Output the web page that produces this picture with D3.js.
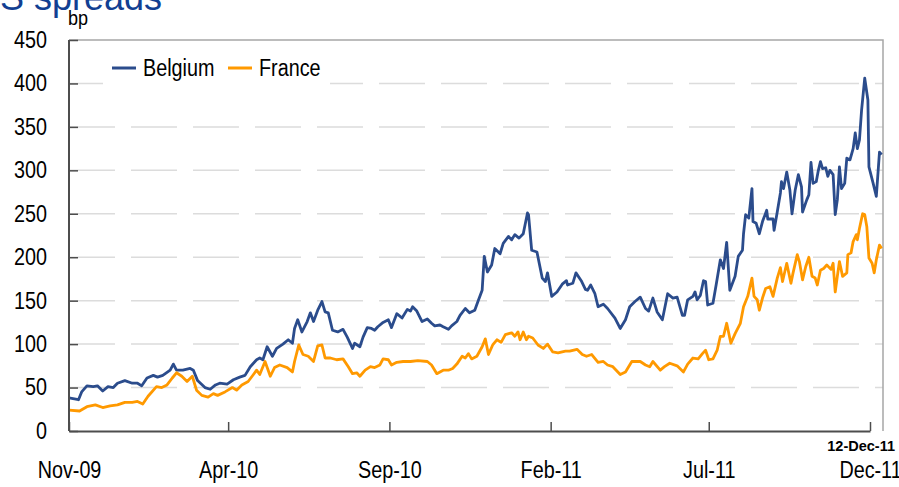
<!DOCTYPE html>
<html>
<head>
<meta charset="utf-8">
<script src="https://cdn.jsdelivr.net/npm/d3@7"></script>
<style>
  body { margin: 0; background: #fff; }
  text { font-family: "Liberation Sans", Arial, sans-serif; }
</style>
</head>
<body>
<div id="Area"></div>
<script>
// days counted from 1 Nov 2009, values in bp
var startDate = new Date(2009, 10, 1);

var belgiumDays = [0, 9, 12, 17, 23, 27, 32, 37, 42, 46, 53, 60, 65, 69, 74, 80, 84, 89, 96, 99,
  102, 108, 115, 118, 122, 129, 134, 139, 143, 150, 156, 162, 167, 172, 178, 181, 184, 188, 193, 197,
  203, 208, 212, 214, 217, 221, 226, 229, 232, 236, 240, 243, 246, 250, 255, 260, 264, 269, 271, 276,
  279, 283, 287, 290, 293, 298, 303, 306, 311, 316, 321, 324, 326, 330, 335, 340, 344, 347, 352, 355,
  360, 363, 368, 371, 376, 380, 385, 388, 392, 394, 397, 401, 404, 409, 412, 417, 420, 423, 427, 431,
  435, 436, 439, 444, 449, 452, 454, 458, 463, 468, 472, 473, 478, 481, 486, 490, 492, 495, 499, 502,
  507, 511, 518, 523, 528, 532, 537, 542, 547, 550, 554, 558, 563, 568, 573, 577, 582, 584, 587, 592,
  594, 596, 599, 602, 604, 606, 611, 614, 618, 621, 624, 627, 632, 635, 639, 640, 642, 645, 648, 649,
  652, 655, 658, 662, 663, 668, 669, 672, 675, 676, 678, 681, 684, 686, 689, 692, 695, 696, 700, 702,
  704, 706, 709, 711, 713, 715, 718, 720, 722, 725, 727, 729, 731, 733, 736, 738, 741, 744, 746, 748,
  750, 752, 755, 758, 759, 763, 766, 769, 771];
var belgiumBp = [38, 36, 45, 52, 51, 52, 46, 51, 50, 55, 58, 55, 55, 52, 61, 64, 62, 64, 70, 77,
  70, 70, 72, 70, 58, 50, 48, 53, 55, 54, 59, 62, 64, 74, 82, 84, 82, 97, 86, 95,
  100, 105, 101, 118, 128, 114, 126, 136, 126, 139, 149, 137, 136, 116, 114, 117, 108, 95, 101, 97,
  108, 119, 118, 116, 120, 125, 128, 119, 135, 130, 140, 138, 143, 138, 126, 129, 124, 121, 122, 120,
  117, 121, 126, 133, 141, 136, 139, 149, 162, 201, 183, 191, 210, 204, 216, 224, 220, 226, 222, 227,
  251, 249, 208, 206, 176, 172, 182, 155, 160, 169, 173, 168, 170, 182, 173, 163, 162, 168, 158, 143,
  146, 141, 130, 118, 128, 143, 149, 154, 141, 138, 153, 137, 128, 158, 153, 154, 133, 133, 151, 155,
  160, 151, 156, 173, 172, 145, 147, 168, 197, 187, 217, 162, 178, 201, 208, 227, 249, 245, 279, 241,
  239, 227, 241, 254, 244, 244, 231, 252, 274, 287, 279, 298, 277, 250, 277, 295, 281, 252, 266, 272,
  309, 285, 287, 300, 310, 302, 303, 293, 300, 295, 249, 266, 304, 279, 285, 314, 312, 325, 343, 325,
  335, 369, 406, 381, 304, 285, 270, 321, 318];

var franceDays = [0, 10, 17, 25, 32, 39, 46, 53, 60, 65, 70, 75, 83, 88, 93, 98, 102, 107, 112, 117,
  121, 126, 132, 137, 141, 148, 155, 159, 164, 170, 175, 178, 181, 186, 191, 195, 200, 207, 212, 214,
  218, 222, 227, 232, 236, 240, 243, 248, 254, 260, 265, 269, 273, 276, 281, 286, 290, 295, 298, 303,
  306, 311, 317, 324, 331, 340, 344, 349, 355, 360, 364, 368, 373, 376, 379, 382, 387, 392, 395, 398,
  402, 406, 410, 414, 420, 423, 426, 428, 431, 434, 436, 440, 445, 450, 454, 459, 464, 471, 475, 482,
  487, 491, 496, 502, 507, 511, 516, 523, 528, 534, 542, 547, 551, 554, 561, 565, 570, 577, 583, 587,
  592, 597, 601, 604, 607, 611, 615, 618, 621, 624, 628, 632, 637, 640, 644, 648, 650, 653, 655, 658,
  661, 665, 668, 672, 675, 677, 681, 685, 687, 691, 693, 696, 699, 702, 705, 708, 710, 713, 716, 719,
  723, 725, 727, 729, 731, 734, 738, 739, 742, 744, 747, 748, 750, 753, 755, 757, 759, 762, 764, 766,
  769, 771];
var franceBp = [24, 23, 28, 30, 27, 29, 30, 33, 33, 34, 31, 40, 51, 50, 53, 61, 67, 63, 57, 63,
  47, 41, 39, 43, 41, 45, 50, 47, 53, 57, 65, 70, 65, 80, 63, 73, 76, 73, 68, 80,
  99, 88, 86, 80, 98, 99, 84, 84, 82, 83, 74, 66, 67, 63, 70, 74, 73, 76, 83, 82,
  76, 79, 80, 80, 81, 80, 76, 66, 70, 70, 72, 77, 86, 84, 89, 83, 86, 97, 106, 88,
  99, 105, 102, 111, 113, 109, 114, 105, 114, 105, 109, 107, 99, 95, 100, 91, 90, 92, 92, 94,
  88, 86, 88, 79, 80, 76, 74, 65, 68, 80, 80, 76, 74, 80, 70, 74, 78, 75, 68, 77,
  84, 83, 89, 93, 82, 83, 93, 109, 109, 124, 101, 112, 124, 143, 155, 176, 155, 151, 139, 153,
  164, 166, 155, 176, 188, 172, 193, 170, 182, 203, 195, 174, 189, 200, 178, 176, 168, 185, 187, 191,
  186, 193, 160, 178, 195, 178, 182, 203, 205, 218, 226, 220, 233, 250, 249, 235, 199, 193, 182, 197,
  214, 210];

var yTicks = [0, 50, 100, 150, 200, 250, 300, 350, 400, 450];
var xTickDates = [new Date(2009, 10, 1), new Date(2010, 3, 1), new Date(2010, 8, 1),
  new Date(2011, 1, 1), new Date(2011, 6, 1), new Date(2011, 11, 1)];
var seriesNames = ["Belgium", "France"];
var seriesColors = ["#2b4c8c", "#ff9900"];

var W = 899, H = 487;
var m = { left: 69, right: 883, top: 40, bottom: 431 };
var squeeze = 0.86; // the original uses a narrow font

var svg = d3.select("#Area").append("svg")
  .attr("width", W)
  .attr("height", H);

var x = d3.scaleTime()
  .domain([new Date(2009, 10, 1), new Date(2011, 11, 1)])
  .range([m.left, 870]);
var y = d3.scaleLinear()
  .domain([0, 450])
  .range([m.bottom, m.top]);

function toPoints(days, vals) {
  return days.map(function (d, i) {
    return { date: d3.timeDay.offset(startDate, d), v: vals[i] };
  });
}
var belgium = toPoints(belgiumDays, belgiumBp);
var france = toPoints(franceDays, franceBp);

// narrow text: scale horizontally, keeping x in place
function narrowText(g, px, py, str, size) {
  return g.append("text")
    .attr("x", px / squeeze)
    .attr("y", py)
    .attr("transform", "scale(" + squeeze + ",1)")
    .style("font-size", size + "px")
    .text(str);
}

// title, mostly cut off at the top
svg.append("text")
  .attr("x", 162)
  .attr("y", 10)
  .attr("text-anchor", "end")
  .style("font-size", "36px")
  .attr("fill", "#123f92")
  .text("CDS spreads");

// dashed gridlines
svg.append("g")
  .selectAll("line")
  .data(yTicks.slice(1, -1))
  .enter()
  .append("line")
  .attr("x1", m.left)
  .attr("x2", m.right)
  .attr("y1", function (d) { return y(d); })
  .attr("y2", function (d) { return y(d); })
  .attr("stroke", "#dcdcdc")
  .attr("stroke-width", 1.5)
  .attr("stroke-dasharray", "46,16");

// frame top / right
svg.append("path")
  .attr("d", "M" + m.left + "," + m.top + "H" + m.right + "V" + m.bottom)
  .attr("fill", "none")
  .attr("stroke", "#a6a6a6")
  .attr("stroke-width", 1.5);

// lines
var line = d3.line()
  .x(function (d) { return x(d.date); })
  .y(function (d) { return y(d.v); });

[belgium, france].forEach(function (data, i) {
  svg.append("path")
    .datum(data)
    .attr("d", line)
    .attr("fill", "none")
    .attr("stroke", seriesColors[i])
    .attr("stroke-width", 2.8)
    .attr("stroke-linejoin", "round");
});

// axes
var yAxis = svg.append("g")
  .attr("transform", "translate(" + m.left + ",0)")
  .call(d3.axisLeft(y).tickValues(yTicks).tickSize(-9).tickPadding(22));
var xAxis = svg.append("g")
  .attr("transform", "translate(0," + m.bottom + ")")
  .call(d3.axisBottom(x).tickValues(xTickDates).tickFormat(d3.timeFormat("%b-%y"))
    .tickSize(-9).tickSizeOuter(0).tickPadding(31));

[yAxis, xAxis].forEach(function (g) {
  g.select(".domain").attr("stroke", "#4d4d4d").attr("stroke-width", 2);
  g.selectAll(".tick line").attr("stroke", "#4d4d4d").attr("stroke-width", 1.5);
  g.selectAll("text")
    .attr("fill", "#000")
    .style("font-family", "'Liberation Sans', Arial, sans-serif")
    .style("font-size", "23px")
    .attr("transform", "scale(" + squeeze + ",1)");
});
yAxis.selectAll(".tick text").attr("x", -22 / squeeze);
yAxis.select(".domain").attr("d", "M0," + m.top + "V" + m.bottom);

narrowText(svg, 68, 25, "bp", 21);

// last date annotation
svg.append("text")
  .attr("x", 895)
  .attr("y", 451)
  .attr("text-anchor", "end")
  .style("font-weight", "bold")
  .style("font-size", "14.5px")
  .text("12-Dec-11");

// legend
var legend = svg.append("g");
legend.append("rect")
  .attr("x", 103).attr("y", 50)
  .attr("width", 227).attr("height", 38)
  .attr("fill", "#fff");
var legendX = [112, 228];
seriesNames.forEach(function (name, i) {
  legend.append("line")
    .attr("x1", legendX[i]).attr("x2", legendX[i] + 24)
    .attr("y1", 68).attr("y2", 68)
    .attr("stroke", seriesColors[i])
    .attr("stroke-width", 3);
  narrowText(legend, legendX[i] + 31, 76, name, 23);
});
</script>
</body>
</html>
